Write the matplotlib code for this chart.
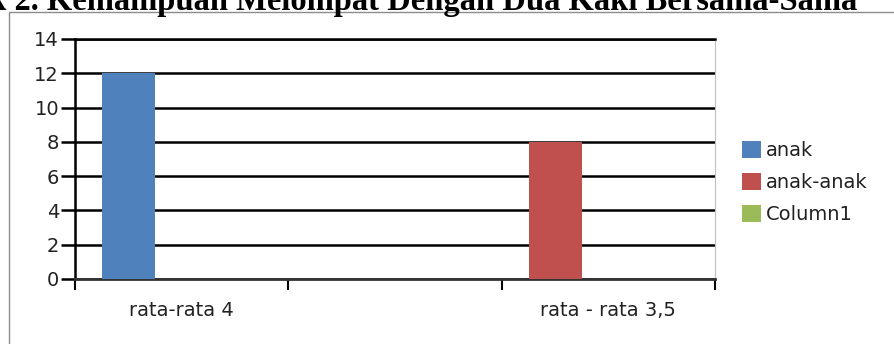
import matplotlib
matplotlib.use("Agg")
import matplotlib.pyplot as plt
from matplotlib.patches import Rectangle, Patch
import numpy as np

# ---- data ----
categories = ["rata-rata 4", "", "rata - rata 3,5"]
series_names = ["anak", "anak-anak", "Column1"]
anak = [12, 0, 0]
anak_anak = [0, 0, 8]
column1 = [0, 0, 0]
yticks = [0, 2, 4, 6, 8, 10, 12, 14]
title = "Grafik 2. Kemampuan Melompat Dengan Dua Kaki Bersama-Sama"

colors = ["#4F81BD", "#C0504D", "#9BBB59"]
slots = [-1, -1, 0]  # slot position of each series inside a category (as drawn)

W, H = 894, 344
fig = plt.figure(figsize=(W / 100, H / 100), dpi=100)
fig.patch.set_facecolor("white")

# outer chart border
fig.patches.append(Rectangle((8.5 / W, -0.05), 1.2, (H - 12.5) / H + 0.05,
                             transform=fig.transFigure, fill=False,
                             edgecolor="#8c8c8c", lw=1.0))

# title (cut by top edge as in the reference)
fig.text(857 / W, 1 - 10 / H, title, ha="right", va="baseline",
         fontsize=23.5, fontweight="bold", family="Liberation Serif", color="black")

ax = fig.add_axes([75 / W, 1 - 279 / H, (715 - 75) / W, (279 - 39) / H])
ax.set_facecolor("white")

n = len(categories)
bw = 0.248
centers = np.arange(n) + 0.5
for vals, c, s, name in zip([anak, anak_anak, column1], colors, slots, series_names):
    ax.bar(centers + s * bw, vals, width=bw, color=c, zorder=3, label=name)

ax.set_xlim(0, n)
ax.set_ylim(0, 14)
ax.set_yticks(yticks)
ax.set_yticklabels([str(v) for v in yticks])
ax.yaxis.grid(True, color="black", lw=1.8, zorder=1)
ax.set_axisbelow(True)

ax.set_xticks(np.arange(n + 1))
ax.set_xticklabels([])
ax.set_xticks(centers, minor=True)
ax.set_xticklabels(categories, minor=True)
ax.tick_params(axis="x", which="major", direction="out", length=8, width=1.5, color="black")
ax.tick_params(axis="x", which="minor", length=0, pad=15.5, labelsize=14, labelcolor="#222222")
ax.tick_params(axis="y", direction="out", length=10, width=1.8, color="black",
               pad=1.5, labelsize=14, labelcolor="#222222")
for lab in ax.get_yticklabels() + ax.get_xticklabels(minor=True):
    lab.set_family("DejaVu Sans")

ax.spines["left"].set_color("black")
ax.spines["left"].set_linewidth(1.8)
ax.spines["bottom"].set_color("#333333")
ax.spines["bottom"].set_linewidth(2)
ax.spines["top"].set_color("black")
ax.spines["top"].set_linewidth(1.8)
ax.spines["right"].set_color("#bfbfbf")
ax.spines["right"].set_linewidth(0.8)

handles = [Patch(facecolor=c, edgecolor="none") for c in colors]
leg = fig.legend(handles, series_names, loc="upper left",
                 bbox_to_anchor=(738 / W, 1 - 137 / H), frameon=False,
                 prop={"family": "DejaVu Sans", "size": 14},
                 handlelength=0.98, handleheight=0.98, handletextpad=0.25,
                 labelspacing=0.66, borderaxespad=0, borderpad=0.2)
for t in leg.get_texts():
    t.set_color("#222222")

fig.savefig("out.png", dpi=100, facecolor="white")
